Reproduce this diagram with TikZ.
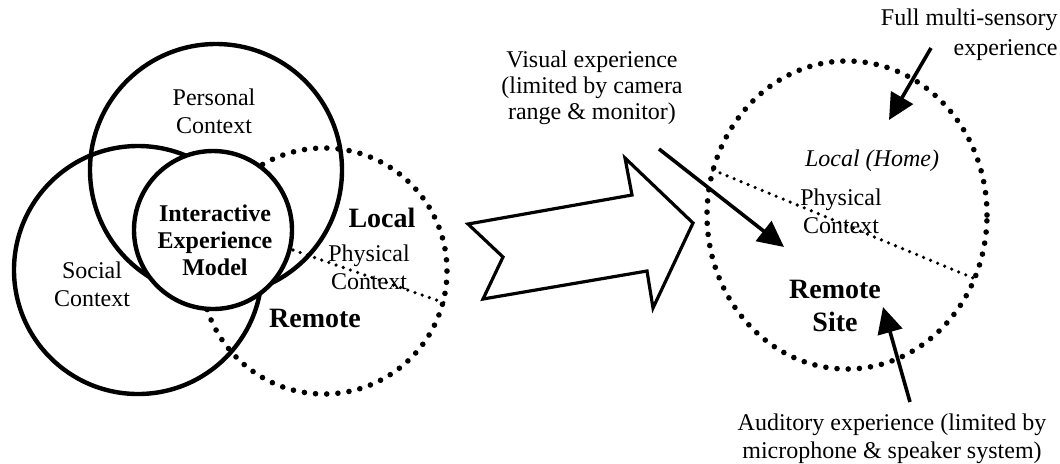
\documentclass[tikz,border=0pt]{standalone}
\usepackage{fontspec}
\setmainfont{Liberation Serif}
\usetikzlibrary{positioning,arrows.meta}
\tikzset{
  ring/.style={line width=2.2pt},
  dotring/.style={line width=2.8pt, line cap=round, dash pattern=on 0pt off 5.6pt},
  dotline/.style={line width=1.8pt, line cap=round, dash pattern=on 0pt off 3.8pt},
  pointer/.style={line width=1.8pt, -{Triangle[length=13pt,width=12.5pt]}},
  lbl/.style={align=center, inner sep=0pt, font=\fontsize{12}{14}\selectfont},
  site/.style={align=center, inner sep=0pt, font=\fontsize{14}{16.5}\selectfont\bfseries}
}
\begin{document}
\begin{tikzpicture}[x=0.5pt, y=-0.5pt]
  \useasboundingbox (0,0) rectangle (1060,463);
  % context model
  \draw[dotring] (324,271) circle [radius=61.5pt];
  \draw[ring] (216,170) circle [radius=63pt];
  \draw[ring] (138,270) circle [radius=62pt];
  \draw[dotline] (293,250) -- (445,303);
  \draw[ring, fill=white] (213,230) circle [radius=39.5pt];
  \node[lbl] (personal) at (214,111) {Personal\\Context};
  \node[lbl] (social) at (92,284) {Social\\Context};
  \node[lbl, font=\fontsize{12}{13.5}\selectfont\bfseries] (model) at (215,240) {Interactive\\Experience\\Model};
  \node[site] (local) at (382,218) {Local};
  \node[lbl] (physical) at (369,267) {Physical\\Context};
  \node[site] (remote) at (315,318) {Remote};
  % big arrow
  \draw[line width=1.6pt] (468,224) -- (632,195) -- (625,158) -- (693,223) -- (653,308)
    -- (647,271) -- (483,299) -- (503,257) -- cycle;
  % remote site
  \draw[dotring] (847,215) ellipse [x radius=70pt, y radius=77pt];
  \draw[dotline] (713,170) -- (978,280);
  \node[lbl, font=\fontsize{12}{14}\selectfont\itshape] (home) at (872,161) {Local (Home)};
  \node[lbl] (physical2) at (841,211) {Physical\\Context};
  \node[site] (remotesite) at (835,306) {Remote\\Site};
  \node[lbl, font=\fontsize{12}{13}\selectfont] (visual) at (592,88) {Visual experience\\(limited by camera\\range \& monitor)};
  \node[lbl, align=right, anchor=east, font=\fontsize{12}{15}\selectfont] (full) at (1058,35) {Full multi-sensory\\experience};
  \node[lbl] (auditory) at (892,439) {Auditory experience (limited by\\microphone \& speaker system)};
  \coordinate (vis-a) at (659,149);
  \coordinate (vis-b) at (784,247);
  \coordinate (full-a) at (931,48);
  \coordinate (full-b) at (889,120);
  \coordinate (aud-a) at (910,402);
  \coordinate (aud-b) at (883,307);
  \draw[pointer] (vis-a) -- (vis-b);
  \draw[pointer] (full-a) -- (full-b);
  \draw[pointer] (aud-a) -- (aud-b);
\end{tikzpicture}
\end{document}
